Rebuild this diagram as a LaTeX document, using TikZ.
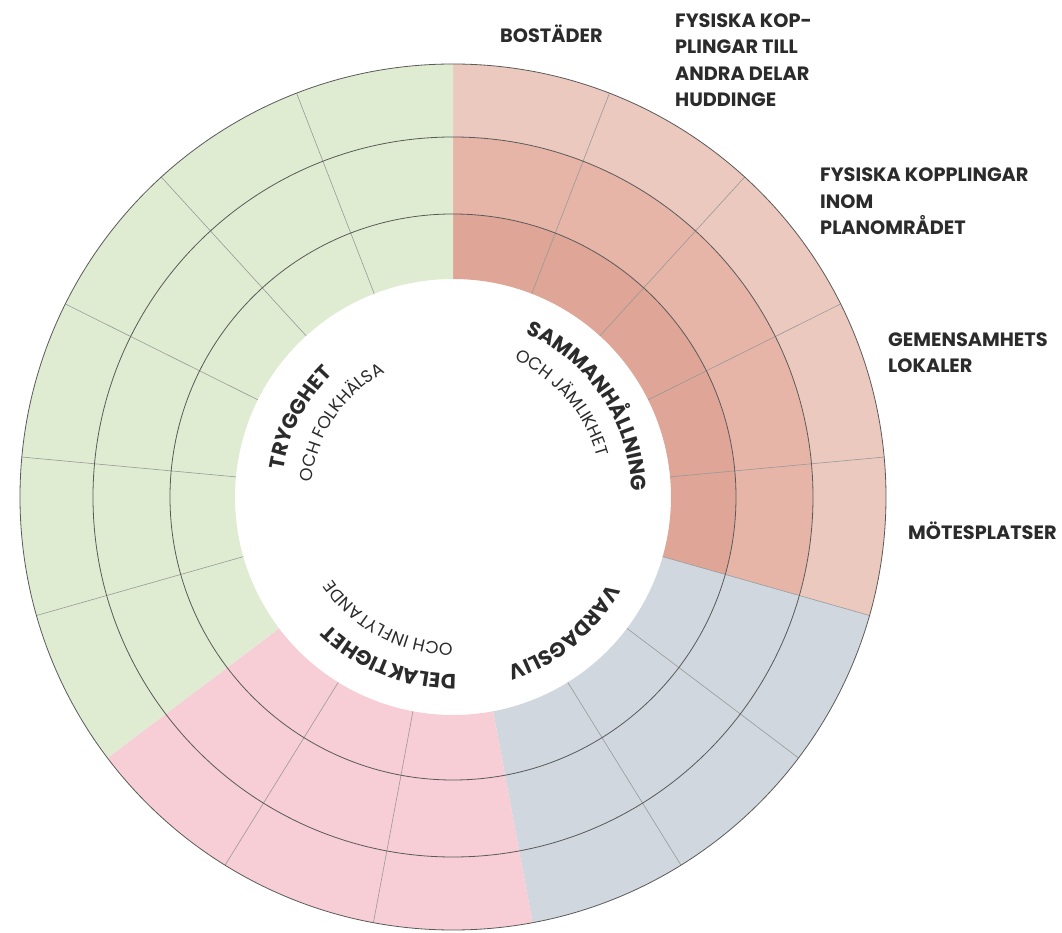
\documentclass[tikz,border=0pt]{standalone}
\usepackage{fontspec}
\setmainfont{Poppins}
\usetikzlibrary{decorations.text}

\definecolor{ink}{HTML}{2B2B2B}
\definecolor{tryggFill}{HTML}{E0ECD2}
\definecolor{vardagFill}{HTML}{D0D7DE}
\definecolor{delaktFill}{HTML}{F7CED5}
\definecolor{samInner}{HTML}{DFA596}
\definecolor{samMid}{HTML}{E6B5A8}
\definecolor{samOuter}{HTML}{ECC9BE}

\def \innerR {218}
\def \ringA {283}
\def \ringB {360}
\def \outerR {433}
\def \slice {21.17647}

\newcommand{\ringpart}[5]{\fill[#1] (#2:#4) arc[start angle=#2, end angle=#3, radius=#4] -- (#3:#5) arc[start angle=#3, end angle=#2, radius=#5] -- cycle;}
\newcommand{\titlefont}{\fontsize{20.8}{24}\selectfont\bfseries}
\newcommand{\subfont}{\fontsize{17.4}{20}\selectfont}

\tikzset{
  ringline/.style={draw=black!65, line width=0.8pt},
  spoke/.style={draw=black!40, line width=0.6pt},
  labeltext/.style={font=\fontsize{19.3}{26.5}\selectfont\bfseries, text=ink, inner sep=0pt, align=left, anchor=base west},
  curved/.style={decorate, decoration={text along path, text color=ink, text align=left, text={#1}}}
}

\begin{document}
\begin{tikzpicture}[x=1pt, y=1pt]
\useasboundingbox (-453,-436) rectangle (609,497);

\ringpart{samInner}{90}{-15.882}{\innerR}{\ringA}
\ringpart{samMid}{90}{-15.882}{\ringA}{\ringB}
\ringpart{samOuter}{90}{-15.882}{\ringB}{\outerR}
\ringpart{vardagFill}{-15.882}{-79.412}{\innerR}{\outerR}
\ringpart{delaktFill}{-79.412}{-142.941}{\innerR}{\outerR}
\ringpart{tryggFill}{-142.941}{-270}{\innerR}{\outerR}

\foreach \k in {1,2,3,4,5,6,7,9,10,12,13,14,15,16}
  \draw[spoke] ({90-\k*\slice}:\innerR) -- ({90-\k*\slice}:\outerR);

\draw[ringline] (0,0) circle[radius=\ringA];
\draw[ringline] (0,0) circle[radius=\ringB];
\draw[ringline] (0,0) circle[radius=\outerR];

\path[curved={|\titlefont|SAMMANHÅLLNING}] (66:179) arc[start angle=66, end angle=-20, radius=179];
\path[curved={|\subfont|OCH JÄMLIKHET}] (66:150) arc[start angle=66, end angle=0, radius=150];
\path[curved={|\titlefont|TRYGGHET}] (171:172) arc[start angle=171, end angle=110, radius=172];
\path[curved={|\subfont|OCH FOLKHÄLSA}] (174:142) arc[start angle=174, end angle=100, radius=142];
\path[curved={|\titlefont|VARDAGSLIV}] (-29:178) arc[start angle=-29, end angle=-90, radius=178];
\path[curved={|\titlefont|DELAKTIGHET}] (-89:177) arc[start angle=-89, end angle=-150, radius=177];
\path[curved={|\subfont|OCH INFLYTANDE}] (-90:146) arc[start angle=-90, end angle=-160, radius=146];

\node[labeltext] (bostader) at (47,454) {BOSTÄDER};
\node[labeltext] (andradelar) at (222,390) {FYSISKA KOP-\\PLINGAR TILL\\ANDRA DELAR\\HUDDINGE};
\node[labeltext] (planomradet) at (367,262) {FYSISKA KOPPLINGAR\\INOM\\PLANOMRÅDET};
\node[labeltext] (lokaler) at (435,124) {GEMENSAMHETS\\LOKALER};
\node[labeltext] (motesplatser) at (455,-43) {MÖTESPLATSER};
\end{tikzpicture}
\end{document}
